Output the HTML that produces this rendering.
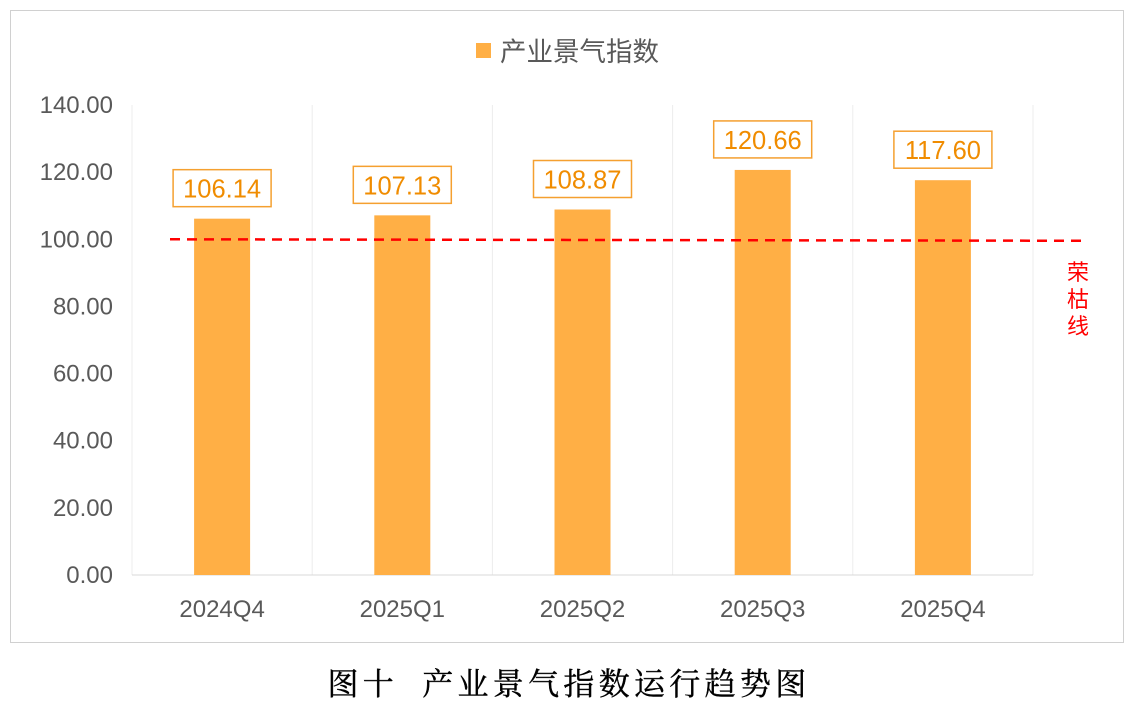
<!DOCTYPE html>
<html><head><meta charset="utf-8"><style>
body{margin:0;background:#fff;width:1134px;height:708px;overflow:hidden;font-family:"Liberation Sans","Noto Sans CJK SC",sans-serif}
</style></head><body>
<svg width="1134" height="708">
<rect x="10.5" y="10.5" width="1113" height="632" fill="#fff" stroke="#d0d0d0"/>
<g>
<rect x="476" y="43" width="15" height="15" fill="#FFAF45"/>
<text x="500" y="61" font-size="26.5" fill="#595959" font-family="Liberation Sans,Noto Sans CJK SC,sans-serif">产业景气指数</text>
</g>
<g id="plot"></g>
<text x="569" y="695" text-anchor="middle" font-size="31" fill="#000" stroke="#000" stroke-width="0.4" font-family="Liberation Serif,Noto Serif CJK SC,serif" letter-spacing="4.3">图十&#160;&#160;产业景气指数运行趋势图</text>
</svg>
<script>
const categories=["2024Q4","2025Q1","2025Q2","2025Q3","2025Q4"];
const values=[106.14,107.13,108.87,120.66,117.60];
const yTicks=[0,20,40,60,80,100,120,140];
const threshold=[100];
const NS="http://www.w3.org/2000/svg";
const g=document.getElementById('plot');
const x0=132,x1=1033,yBase=575,yTop=105,yMax=140;
const bw=(x1-x0)/categories.length;
const y=v=>yBase-(v/yMax)*(yBase-yTop);
const xc=i=>x0+bw*(i+0.5);
function el(t,a){const e=document.createElementNS(NS,t);for(const k in a)e.setAttribute(k,a[k]);g.appendChild(e);return e;}
for(let i=0;i<=categories.length;i++){
 const l=el('line',{x1:x0+bw*i,x2:x0+bw*i,y1:yTop,y2:yBase,stroke:'#ececec'});
 
 
}
const ax=el('line',{x1:x0,x2:x1,y1:yBase,y2:yBase,stroke:'#d9d9d9'});


yTicks.forEach(v=>{
 const t=el('text',{x:113,y:y(v)+8,'text-anchor':'end','font-size':24,fill:'#595959'});
 t.textContent=v.toFixed(2);
 
 
});
categories.forEach((c,i)=>{
 const r=el('rect',{x:xc(i)-28,y:y(values[i]),width:56,height:yBase-y(values[i]),fill:'#FFAF45'});
 
 
 const t=el('text',{x:xc(i),y:617,'text-anchor':'middle','font-size':24,fill:'#595959'});
 t.textContent=c;
 
 
 const by=y(values[i])-12-37;
 const b=el('rect',{x:xc(i)-49,y:by,width:98,height:37,fill:'#fff',stroke:'#F5A030','stroke-width':1.5});
 
 
 const vt=el('text',{x:xc(i),y:by+28,'text-anchor':'middle','font-size':25.5,fill:'#F08C00'});
 vt.textContent=values[i].toFixed(2);
 
 
});
const dl=el('line',{x1:170,x2:1085,y1:y(threshold[0]),y2:y(threshold[0])+1.5,stroke:'#FF0000','stroke-width':2.5,'stroke-dasharray':'10,7'});


["荣","枯","线"].forEach((ch,i)=>{
 const t=el('text',{x:1078,y:280+i*27,'text-anchor':'middle','font-size':22,fill:'#FF0000'});
 t.textContent=ch;
 
 
});
</script>
</body></html>
